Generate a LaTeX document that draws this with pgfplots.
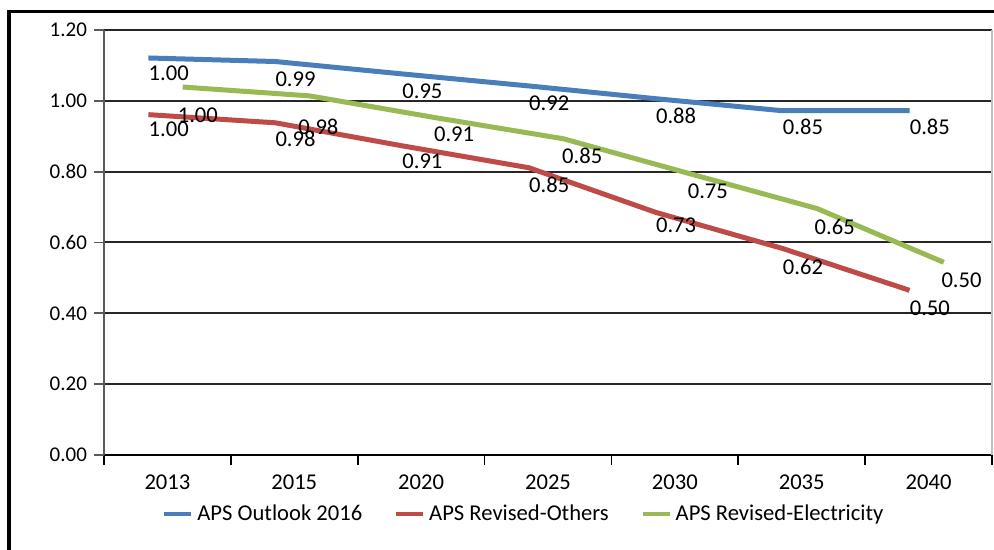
\documentclass[border=0pt]{standalone}
\usepackage{fontspec}
\setmainfont{Carlito}
\usepackage{pgfplots}
\pgfplotsset{compat=1.18}

\definecolor{apsblue}{HTML}{4A7EBB}
\definecolor{apsred}{HTML}{BE4B48}
\definecolor{apsgreen}{HTML}{98B954}
\newcommand\lbl{\fontsize{11.3bp}{13bp}\selectfont}

% lines sit slightly off the category centres, as in the source chart
\pgfplotstableread{
x y
-0.15 1.121
0.85 1.111
1.85 1.076
2.85 1.042
3.85 1.006
4.85 0.972
5.85 0.972
}\outlook
\pgfplotstableread{
x y
-0.15 0.961
0.85 0.938
1.85 0.873
2.85 0.811
3.85 0.685
4.85 0.583
5.85 0.465
}\others
\pgfplotstableread{
x y
0.12 1.039
1.12 1.014
2.12 0.952
3.12 0.893
4.12 0.794
5.12 0.696
6.12 0.544
}\electricity

% data label positions (centre of text) and their text
\pgfplotstableread{
x y l
0.01 1.077 1.00
1.01 1.062 0.99
2.01 1.026 0.95
3.01 0.992 0.92
4.01 0.957 0.88
5.01 0.927 0.85
6.01 0.927 0.85
}\outlooklbl
\pgfplotstableread{
x y l
0.01 0.920 1.00
1.01 0.892 0.98
2.01 0.829 0.91
3.01 0.764 0.85
4.01 0.648 0.73
5.01 0.532 0.62
6.01 0.414 0.50
}\otherslbl
\pgfplotstableread{
x y l
0.24 0.958 1.00
1.19 0.926 0.98
2.26 0.906 0.91
3.27 0.844 0.85
4.26 0.744 0.75
5.26 0.644 0.65
6.26 0.493 0.50
}\electricitylbl

\begin{document}
\begin{tikzpicture}
\begin{axis}[
    scale only axis,
    width=444bp, height=212.5bp,
    xmin=-0.5, xmax=6.5,
    ymin=0, ymax=1.2,
    clip=false,
    axis x line*=bottom,
    axis y line*=left,
    x axis line style={black, line width=1bp},
    y axis line style={black!65, line width=0.9bp},
    xtick={0,1,2,3,4,5,6},
    xticklabels={2013,2015,2020,2025,2030,2035,2040},
    minor xtick={-0.5,0.5,1.5,2.5,3.5,4.5,5.5,6.5},
    major x tick style={draw=none},
    minor x tick style={black, line width=0.9bp},
    major y tick style={black!65, line width=0.9bp},
    major tick length=5bp, minor tick length=5bp,
    tick align=outside,
    ytick={0,0.2,0.4,0.6,0.8,1.0,1.2},
    ymajorgrids,
    major grid style={black!85, line width=1bp},
    /pgf/number format/assume math mode=true,
    yticklabel style={/pgf/number format/fixed, /pgf/number format/fixed zerofill,
        /pgf/number format/precision=2, font=\fontsize{10.5bp}{12bp}\selectfont},
    xticklabel style={font=\lbl, yshift=-1.5bp},
    legend style={at={(0.474,-0.139)}, anchor=center, draw=none, fill=none,
        font=\lbl, inner sep=0pt,
        /tikz/every even column/.append style={column sep=14bp}},
    legend columns=3,
    legend image code/.code={\draw[#1, line width=2bp] (0bp,0bp) -- (13.5bp,0bp);},
]
\addplot[apsblue, line width=2.5bp] table[x=x, y=y] {\outlook};
\addlegendentry{APS Outlook 2016}
\addplot[apsred, line width=2.5bp] table[x=x, y=y] {\others};
\addlegendentry{APS Revised-Others}
\addplot[apsgreen, line width=2.5bp] table[x=x, y=y] {\electricity};
\addlegendentry{APS Revised-Electricity}

\pgfplotsset{every node near coord/.append style={anchor=center, text=black, font=\lbl}}
\addplot[forget plot, draw=none, mark=none, nodes near coords, point meta=explicit symbolic]
    table[x=x, y=y, meta=l] {\outlooklbl};
\addplot[forget plot, draw=none, mark=none, nodes near coords, point meta=explicit symbolic]
    table[x=x, y=y, meta=l] {\otherslbl};
\addplot[forget plot, draw=none, mark=none, nodes near coords, point meta=explicit symbolic]
    table[x=x, y=y, meta=l] {\electricitylbl};
\end{axis}
\pgfresetboundingbox
\path[use as bounding box] ([shift={(-52bp,-47.5bp)}]current axis.south west)
    rectangle ([shift={(1bp,15bp)}]current axis.north east);
\draw[black!25, line width=0.8bp] (current axis.south east) -- (current axis.north east);
\draw[black, line width=1.6bp] ([shift={(-47.5bp,-60bp)}]current axis.south west)
    |- ([shift={(10bp,9.25bp)}]current axis.north east);
\end{tikzpicture}
\end{document}
